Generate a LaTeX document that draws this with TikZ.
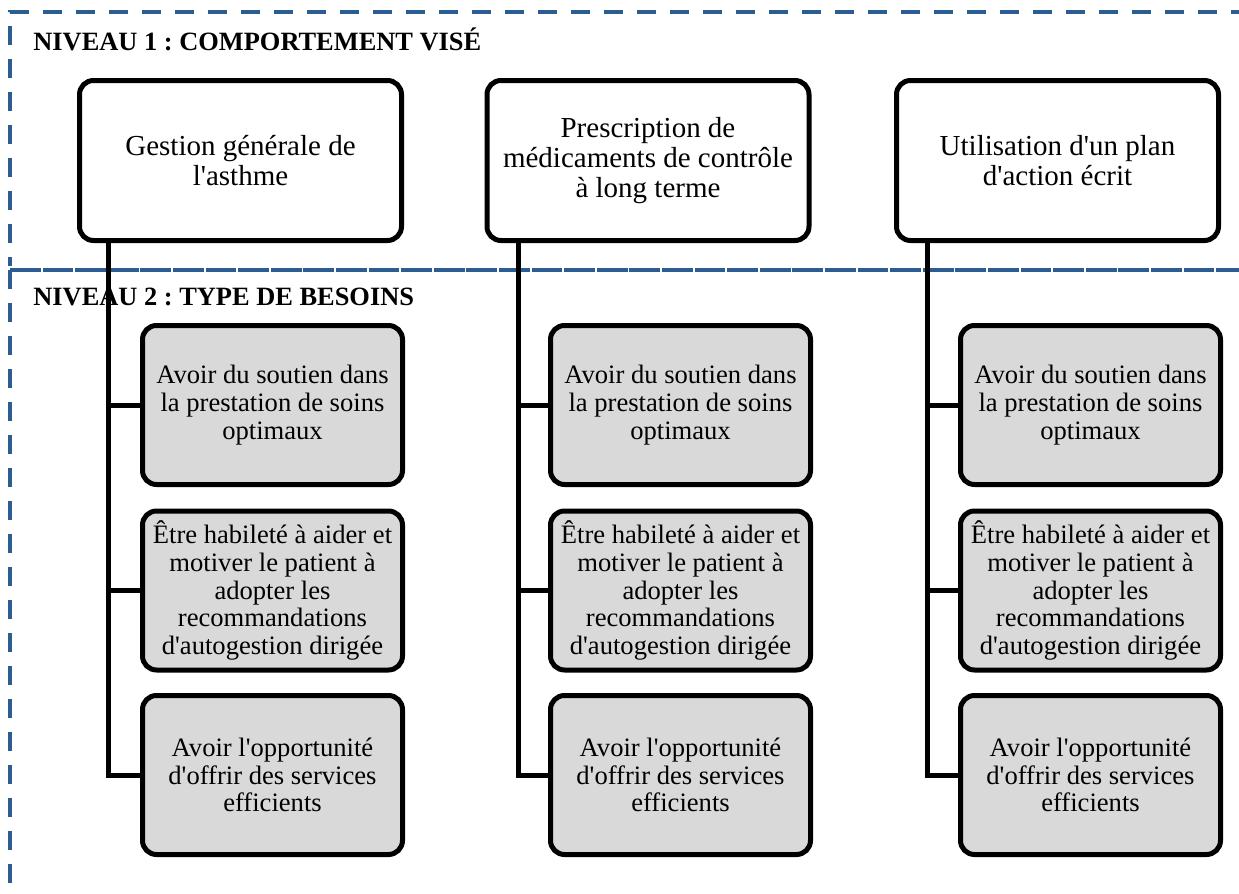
\documentclass[tikz,border=0pt]{standalone}
\usepackage{fontspec}
\setmainfont{Liberation Serif}[Ligatures=TeXOff]
\definecolor{zoneblue}{HTML}{2B5C92}
\definecolor{boxgray}{HTML}{D9D9D9}
\tikzset{
  zone/.style={draw=zoneblue, line width=2pt, dash pattern=on 9.5pt off 7pt},
  zonemid/.style={draw=zoneblue, line width=2.4pt, dash pattern=on 15.4pt off 0.9pt},
  levelbox/.style={draw=black, line width=2.5pt, rounded corners=7pt, fill=white,
    minimum width=161pt, minimum height=80pt, align=center, inner sep=2pt,
    font=\fontsize{14.5}{15}\selectfont},
  needbox/.style={draw=black, line width=2.5pt, rounded corners=7pt, fill=boxgray,
    minimum width=130pt, minimum height=79.5pt, align=center, inner sep=1pt,
    font=\fontsize{13.3}{13.85}\selectfont},
  leveltitle/.style={anchor=base west, inner sep=0pt, font=\fontsize{13.2}{15}\selectfont\bfseries},
  conn/.style={draw=black, line width=2.5pt}
}
\frenchspacing
\begin{document}
\begin{tikzpicture}[x=0.5pt, y=-0.5pt]
\useasboundingbox (0,0) rectangle (1239,894);
\begin{scope}
\clip (0,0) rectangle (1239,894);
% zone outlines
\draw[zone] (1250,12) -- (10,12) -- (10,266);
\draw[zonemid] (10,270) -- (1250,270);
\draw[zone] (10,270) -- (10,900);
\end{scope}
% titles
\node[leveltitle] (t1) at (33,50) {NIVEAU 1 : COMPORTEMENT VISÉ};
\node[leveltitle] (t2) at (33,305) {NIVEAU 2 : TYPE DE BESOINS};
% level 1 boxes
\node[levelbox] (l1a) at (240.5,160.5) {Gestion générale de\\l'asthme};
\node[levelbox] (l1b) at (648,160.5) {Prescription de\\médicaments de contrôle\\à long terme};
\node[levelbox] (l1c) at (1057.5,160.5) {Utilisation d'un plan\\d'action écrit};
% trunk coordinates
\coordinate (ta) at (108,240);
\coordinate (tb) at (518,240);
\coordinate (tc) at (927,240);
% level 2 boxes
\node[needbox] (a1) at (272.5,405) {Avoir du soutien dans\\la prestation de soins\\optimaux};
\node[needbox] (a2) at (272.5,590.5) {Être habileté à aider et\\motiver le patient à\\adopter les\\recommandations\\d'autogestion dirigée};
\node[needbox] (a3) at (272.5,775) {Avoir l'opportunité\\d'offrir des services\\efficients};
\node[needbox] (b1) at (680.5,405) {Avoir du soutien dans\\la prestation de soins\\optimaux};
\node[needbox] (b2) at (680.5,590.5) {Être habileté à aider et\\motiver le patient à\\adopter les\\recommandations\\d'autogestion dirigée};
\node[needbox] (b3) at (680.5,775) {Avoir l'opportunité\\d'offrir des services\\efficients};
\node[needbox] (c1) at (1090.5,405) {Avoir du soutien dans\\la prestation de soins\\optimaux};
\node[needbox] (c2) at (1090.5,590.5) {Être habileté à aider et\\motiver le patient à\\adopter les\\recommandations\\d'autogestion dirigée};
\node[needbox] (c3) at (1090.5,775) {Avoir l'opportunité\\d'offrir des services\\efficients};
% connectors
\draw[conn] (ta) |- (a3.west);
\draw[conn] (ta |- a1.west) -- (a1.west);
\draw[conn] (ta |- a2.west) -- (a2.west);
\draw[conn] (tb) |- (b3.west);
\draw[conn] (tb |- b1.west) -- (b1.west);
\draw[conn] (tb |- b2.west) -- (b2.west);
\draw[conn] (tc) |- (c3.west);
\draw[conn] (tc |- c1.west) -- (c1.west);
\draw[conn] (tc |- c2.west) -- (c2.west);
\end{tikzpicture}
\end{document}
